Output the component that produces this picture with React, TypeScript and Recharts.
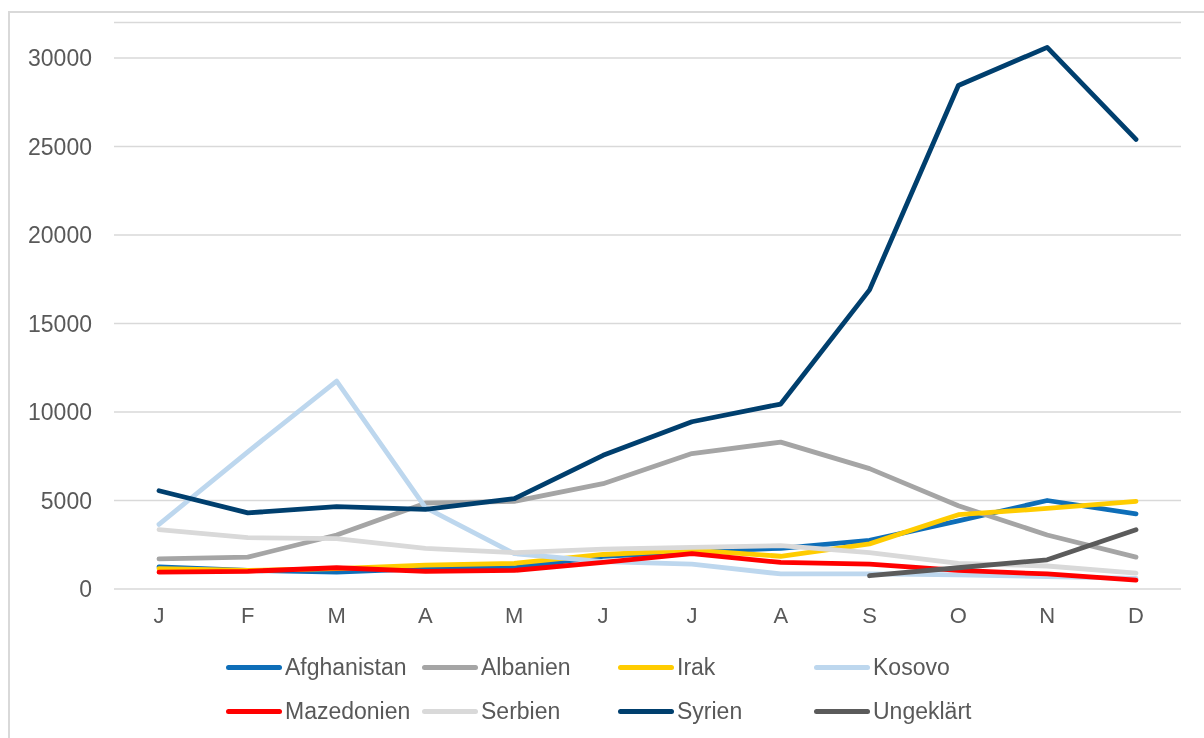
import React from "react";
import {
    LineChart,
    Line,
    XAxis,
    YAxis,
    CartesianGrid
} from "recharts";

// month initials (duplicates are intended)
const months = ["J", "F", "M", "A", "M", "J", "J", "A", "S", "O", "N", "D"];
const yTicks = [0, 5000, 10000, 15000, 20000, 25000, 30000];

const afghanistan = [1250, 1050, 950, 1150, 1200, 1850, 2100, 2300, 2750, 3850, 5000, 4250];
const albanien = [1700, 1800, 3050, 4850, 4950, 5950, 7650, 8300, 6800, 4700, 3050, 1800];
const irak = [1150, 1050, 1150, 1350, 1450, 1950, 2200, 1850, 2550, 4200, 4550, 4950];
const kosovo = [3650, 7750, 11750, 4600, 2000, 1550, 1400, 850, 850, 800, 700, 600];
const mazedonien = [950, 1000, 1200, 1000, 1050, 1500, 2000, 1500, 1400, 1050, 850, 500];
const serbien = [3350, 2900, 2850, 2300, 2050, 2250, 2350, 2450, 2050, 1450, 1300, 900];
const syrien = [5550, 4300, 4650, 4500, 5100, 7550, 9450, 10450, 16900, 28450, 30600, 25400];
const ungeklaert = [null, null, null, null, null, null, null, null, 750, 1200, 1650, 3350];

const series = [
    { key: "Afghanistan", values: afghanistan, color: "#0E6EB8" },
    { key: "Albanien", values: albanien, color: "#A5A5A5" },
    { key: "Irak", values: irak, color: "#FFCC00" },
    { key: "Kosovo", values: kosovo, color: "#BDD7EE" },
    { key: "Mazedonien", values: mazedonien, color: "#FF0000" },
    { key: "Serbien", values: serbien, color: "#D9D9D9" },
    { key: "Syrien", values: syrien, color: "#003F6E" },
    { key: "Ungeklärt", values: ungeklaert, color: "#5B5B5B" }
];

const data = months.map((m, i) => {
    const row: Record<string, string | number | null> = { month: m };
    series.forEach((s) => {
        row[s.key] = s.values[i];
    });
    return row;
});

const font = "'Liberation Sans', Arial, sans-serif";
const textColor = "#595959";

export default function App() {
    return (
        <div style={{ position: "relative", width: 1188, height: 720, fontFamily: font }}>
            {/* frame runs off the right and bottom edge of the picture */}
            <div
                style={{
                    position: "fixed",
                    left: 8,
                    top: 11,
                    width: 1300,
                    height: 900,
                    borderTop: "2px solid #D9D9D9",
                    borderLeft: "2px solid #D9D9D9",
                    boxSizing: "border-box"
                }}
            />

            <div style={{ position: "absolute", left: 0, top: 0 }}>
                <LineChart
                    width={1188}
                    height={625}
                    data={data}
                    margin={{ top: 14.6, right: 15, bottom: 4, left: 0 }}
                >
                    <CartesianGrid vertical={false} stroke="#D9D9D9" strokeWidth={1.5} />
                    <XAxis
                        dataKey="month"
                        allowDuplicatedCategory={true}
                        axisLine={false}
                        tickLine={false}
                        tickSize={0}
                        tickMargin={18}
                        height={40}
                        padding={{ left: 45, right: 45 }}
                        tick={{ fill: textColor, fontSize: 22, fontFamily: font }}
                    />
                    <YAxis
                        domain={[0, 32000]}
                        ticks={yTicks}
                        axisLine={false}
                        tickLine={false}
                        tickSize={0}
                        tickMargin={22}
                        width={106}
                        tick={{ fill: textColor, fontSize: 23, fontFamily: font }}
                    />
                    {series.map((s) => (
                        <Line
                            key={s.key}
                            type="linear"
                            dataKey={s.key}
                            stroke={s.color}
                            strokeWidth={4.8}
                            strokeLinecap="round"
                            strokeLinejoin="round"
                            dot={false}
                            activeDot={false}
                            isAnimationActive={false}
                        />
                    ))}
                </LineChart>
            </div>

            {/* legend, 4 columns x 2 rows */}
            <div
                style={{
                    position: "absolute",
                    left: 218,
                    top: 637,
                    display: "grid",
                    gridTemplateColumns: "repeat(4, 196px)",
                    gridAutoRows: "44px"
                }}
            >
                {series.map((s) => (
                    <div key={s.key} style={{ display: "flex", alignItems: "center" }}>
                        <div
                            style={{
                                width: 56,
                                height: 5,
                                borderRadius: 3,
                                background: s.color,
                                marginRight: 3
                            }}
                        />
                        <span style={{ fontSize: 23, color: textColor, lineHeight: "44px" }}>
                            {s.key}
                        </span>
                    </div>
                ))}
            </div>
        </div>
    );
}
